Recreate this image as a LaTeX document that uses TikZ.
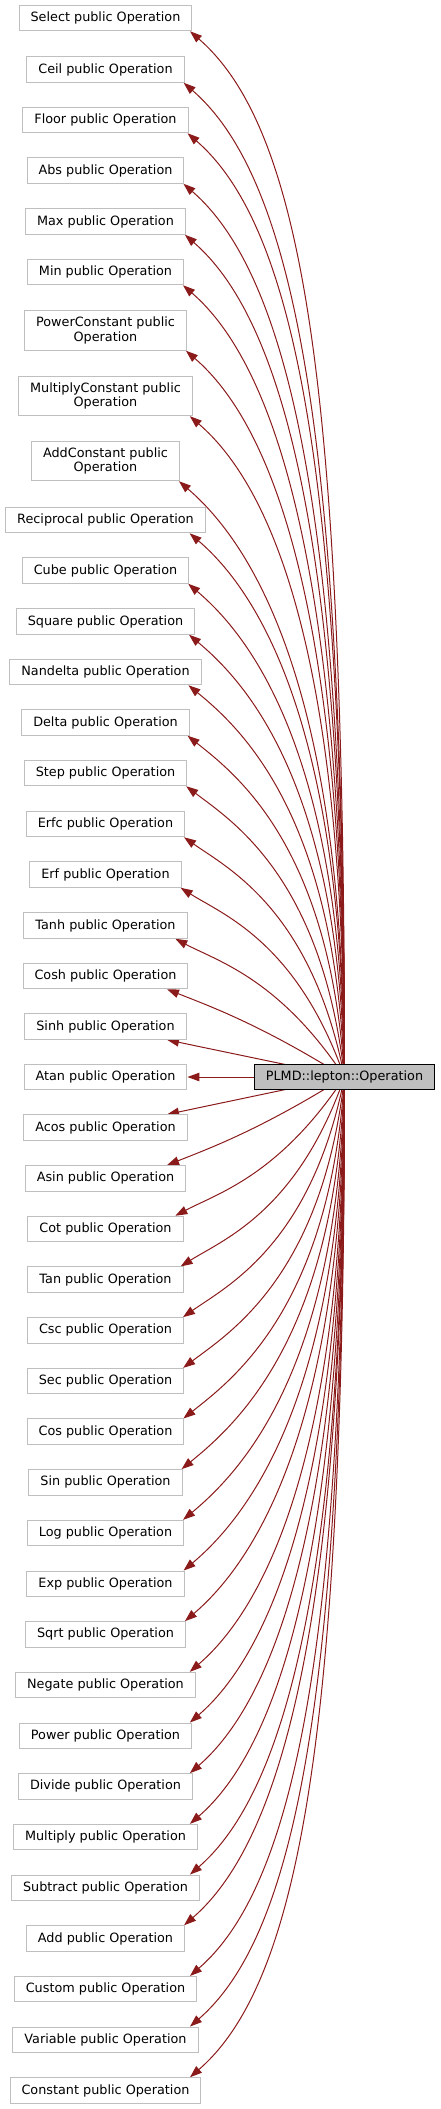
\documentclass[tikz,border=0pt]{standalone}
\usepackage{fontspec}
\usetikzlibrary{arrows.meta,backgrounds,calc}
\newfontfamily\dxfont{DejaVu Sans}
\definecolor{edgered}{HTML}{8B1A1A}
\definecolor{boxgray}{HTML}{BFBFBF}

\tikzset{
  op/.style={draw=boxgray, fill=white, line width=1pt, inner xsep=11.5pt, inner ysep=6.3pt,
    minimum height=25.5pt, align=center, font=\dxfont\fontsize{12.8}{14.4}\selectfont},
  base/.style={op, draw=black, fill=boxgray},
  link/.style={draw=edgered, line width=1pt, -{Triangle[length=12pt,width=8.5pt]}},
}

\begin{document}
\begin{tikzpicture}[x=1pt, y=-1pt]
\useasboundingbox (0,0) rectangle (440,2109);

\node[base] (plmd) at (344.5,1077) {PLMD::lepton::Operation};

% derived classes, top to bottom
\foreach \nm/\txt/\yy in {select/Select/18, ceil/Ceil/69.5, floor/Floor/120, abs/Abs/170.5,
    max/Max/221.5, min/Min/272, reciprocal/Reciprocal/520, cube/Cube/570.5, square/Square/621.5,
    nandelta/Nandelta/672, delta/Delta/722.5, stepop/Step/773, erfc/Erfc/824, erf/Erf/874.5,
    tanh/Tanh/925.5, cosh/Cosh/976, sinh/Sinh/1026.5, atan/Atan/1077,
    acos/Acos/1127.7, asin/Asin/1178.4, cot/Cot/1229, tan/Tan/1279.7, csc/Csc/1330.4,
    sec/Sec/1381.1, cos/Cos/1431.7, sin/Sin/1482.4, log/Log/1533.1, exp/Exp/1583.8,
    sqrt/Sqrt/1634.4, negate/Negate/1685.1, power/Power/1735.8, divide/Divide/1786.4,
    multiply/Multiply/1837.1, subtract/Subtract/1887.8, add/Add/1938.5, custom/Custom/1989.2,
    variable/Variable/2039.8, constant/Constant/2090.5}
  \node[op] (\nm) at (105.5,\yy) {\txt\ public Operation};
\foreach \nm/\txt/\yy in {powerconst/PowerConstant/330.5, multconst/MultiplyConstant/396,
    addconst/AddConstant/461}
  \node[op] (\nm) at (105.5,\yy) {\txt\ public\\Operation};

% inheritance arrows
\begin{scope}[on background layer]
\draw[link] (plmd) -- (atan);
\foreach \nm/\yy [count=\i] in {select/18, ceil/69.5, floor/120, abs/170.5, max/221.5, min/272,
    powerconst/330.5, multconst/396, addconst/461, reciprocal/520, cube/570.5, square/621.5,
    nandelta/672, delta/722.5, stepop/773, erfc/824, erf/874.5, tanh/925.5, cosh/976, sinh/1026.5}{
  \pgfmathsetmacro\kk{21-\i}
  \pgfmathsetmacro\oa{\kk==1 ? 168 : 90+58*exp(-min((\kk-2)*0.55,8))}
  \pgfmathsetmacro\ia{-41+29*exp(-min((\kk-1)*0.4,8))}
  \pgfmathsetmacro\tx{190-23*exp(-min((max(\kk,2)-2)*0.45,8))}
  \pgfmathsetmacro\len{100*veclen((344.5-\tx)/100,(1077-\yy)/100)}
  \pgfmathsetmacro\od{0.3915*\len*(1.6-0.5*exp(-(\kk-1)*0.3))}
  \pgfmathsetmacro\id{0.3915*\len*(0.37+0.3*exp(-(\kk-1)*0.3))}
  \draw[link] let \p1=(\nm.south east) in (plmd.center)
    .. controls +(\oa:\od pt) and +(\ia:\id pt) .. ({min(\x1-1pt,\tx pt)},\y1);
}
\foreach \nm [count=\kk] in {acos, asin, cot, tan, csc, sec, cos, sin, log, exp, sqrt, negate,
    power, divide, multiply, subtract, add, custom, variable, constant}{
  \pgfmathsetmacro\oa{\kk==1 ? -168 : -90-58*exp(-min((\kk-2)*0.55,8))}
  \pgfmathsetmacro\ia{41-29*exp(-min((\kk-1)*0.4,8))}
  \pgfmathsetmacro\tx{190-23*exp(-min((max(\kk,2)-2)*0.45,8))}
  \pgfmathsetmacro\len{100*veclen((344.5-\tx)/100,\kk*50.68/100)}
  \pgfmathsetmacro\od{0.3915*\len*(1.6-0.5*exp(-(\kk-1)*0.3))}
  \pgfmathsetmacro\id{0.3915*\len*(0.37+0.3*exp(-(\kk-1)*0.3))}
  \draw[link] let \p1=(\nm.north east) in (plmd.center)
    .. controls +(\oa:\od pt) and +(\ia:\id pt) .. ({min(\x1-1pt,\tx pt)},\y1);
}
\end{scope}
\end{tikzpicture}
\end{document}
